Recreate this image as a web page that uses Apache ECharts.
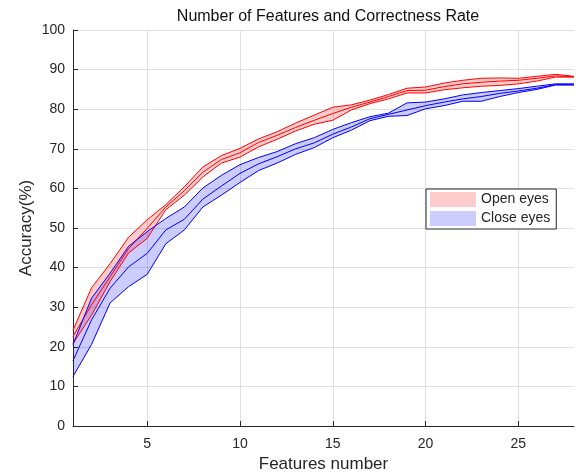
<!DOCTYPE html>
<html>
<head>
<meta charset="utf-8">
<script src="https://cdn.jsdelivr.net/npm/echarts@6/dist/echarts.min.js"></script>
<style>
  html, body { margin: 0; padding: 0; background: #fff; }
  #chart { width: 576px; height: 476px; }
</style>
</head>
<body>
<div id="chart"></div>
<script>
// Number of features used by the classifier
const features = [1,2,3,4,5,6,7,8,9,10,11,12,13,14,15,16,17,18,19,20,21,22,23,24,25,26,27,28];

// Open eyes: upper bound, mean, lower bound (accuracy %)
const openUpper = [24.2,34.9,41.0,47.7,52.1,55.9,60.4,65.4,68.3,70.1,72.5,74.3,76.5,78.5,80.5,81.1,82.3,83.7,85.3,85.6,86.6,87.3,87.8,87.9,87.8,88.3,88.8,88.3];
const openMean  = [22.6,30.6,37.7,44.8,49.9,55.3,59.4,64.1,67.3,69.0,71.6,73.4,75.4,77.2,78.9,80.5,81.8,83.2,84.7,84.8,85.7,86.4,86.8,87.1,87.3,87.8,88.4,88.2];
const openLower = [20.8,28.0,36.5,43.7,47.4,54.6,58.3,62.9,66.4,67.9,70.5,72.4,74.5,76.2,77.2,79.8,81.4,82.6,84.1,84.1,84.9,85.4,85.8,86.0,86.4,87.1,88.1,88.1];

// Close eyes: upper bound, mean, lower bound (accuracy %)
const closeUpper = [20.6,32.3,38.6,45.4,49.1,52.4,55.3,60.1,63.3,66.0,67.8,69.3,71.3,72.8,74.9,76.6,78.1,79.0,81.6,81.8,82.6,83.6,84.2,84.7,85.2,85.8,86.4,86.4];
const closeMean  = [16.5,26.8,34.8,40.2,43.6,49.5,52.2,57.3,60.6,63.8,66.2,68.0,70.0,71.5,73.7,75.5,77.6,78.7,79.8,80.9,81.8,82.6,83.2,84.0,84.6,85.3,86.2,86.2];
const closeLower = [12.5,20.6,31.1,35.2,38.3,46.0,49.5,55.3,58.3,61.5,64.5,66.4,68.6,70.3,72.8,74.7,77.1,78.2,78.4,80.1,80.9,82.0,82.0,83.2,84.2,85.0,86.1,86.1];

const xTicks = [5, 10, 15, 20, 25];

const TEXT = '#262626';
const FONT = 'Liberation Sans, Arial, Helvetica, sans-serif';

const pairs = (vals) => features.map((f, i) => [f, vals[i]]);

function lineSeries(vals, color) {
  return {
    type: 'line', data: pairs(vals), symbol: 'none', silent: true, z: 5,
    lineStyle: { color: color, width: 1 }
  };
}

// shaded band between the upper and lower bounds, drawn as one polygon
function bandSeries(name, hi, lo, fill) {
  return {
    name: name, type: 'custom', silent: true, z: 2,
    data: features.map((f, i) => [f, hi[i], lo[i]]),
    encode: { x: 0, y: [1, 2] },
    itemStyle: { color: fill },
    renderItem: function (params, api) {
      if (params.dataIndex !== 0) return null;
      const top = features.map((f, i) => api.coord([f, hi[i]]));
      const bottom = features.map((f, i) => api.coord([f, lo[i]])).reverse();
      return {
        type: 'polygon',
        shape: { points: top.concat(bottom) },
        style: { fill: fill, stroke: null }
      };
    }
  };
}

const chart = echarts.init(document.getElementById('chart'), null, { renderer: 'canvas' });

chart.setOption({
  animation: false,
  backgroundColor: '#ffffff',
  title: {
    text: 'Number of Features and Correctness Rate',
    left: 323, top: 4, textAlign: 'center',
    textStyle: { fontFamily: FONT, fontSize: 16, fontWeight: 'normal', color: '#111' }
  },
  grid: { left: 73, right: 2, top: 30, bottom: 50, containLabel: false, outerBoundsMode: 'none' },
  legend: {
    orient: 'vertical',
    left: 426, top: 189,
    data: [
      { name: 'Open eyes', icon: 'rect', itemStyle: { color: 'rgba(255,0,0,0.2)', borderWidth: 0 } },
      { name: 'Close eyes', icon: 'rect', itemStyle: { color: 'rgba(0,0,255,0.2)', borderWidth: 0 } }
    ],
    itemWidth: 46, itemHeight: 15, itemGap: 4,
    padding: [3, 6, 3, 4],
    backgroundColor: '#ffffff',
    borderColor: '#262626', borderWidth: 1,
    selectedMode: false,
    textStyle: { fontFamily: FONT, fontSize: 14, color: TEXT }
  },
  xAxis: {
    type: 'value', min: 1, max: 28,
    name: 'Features number', nameLocation: 'middle', nameGap: 30,
    nameTextStyle: { fontFamily: FONT, fontSize: 17, color: TEXT },
    axisLine: { show: true, lineStyle: { color: TEXT, width: 1 } },
    axisTick: { show: true, inside: true, length: 5, customValues: xTicks, lineStyle: { color: TEXT } },
    axisLabel: { customValues: xTicks, margin: 11, fontFamily: FONT, fontSize: 14, color: TEXT },
    splitLine: { show: true, lineStyle: { color: '#dfdfdf', width: 1 } }
  },
  yAxis: {
    type: 'value', min: 0, max: 100, interval: 10,
    name: 'Accuracy(%)', nameLocation: 'middle', nameGap: 38, nameRotate: 90,
    nameMoveOverlap: false,
    nameTextStyle: { fontFamily: FONT, fontSize: 17, color: TEXT },
    axisLine: { show: true, lineStyle: { color: TEXT, width: 1 } },
    axisTick: { show: true, inside: true, length: 5, lineStyle: { color: TEXT } },
    axisLabel: { margin: 8, fontFamily: FONT, fontSize: 14, color: TEXT },
    splitLine: { show: true, lineStyle: { color: '#dfdfdf', width: 1 } }
  },
  series: [
    bandSeries('Open eyes', openUpper, openLower, 'rgba(255,0,0,0.2)'),
    lineSeries(openUpper, '#ff0000'),
    lineSeries(openMean, '#ff0000'),
    lineSeries(openLower, '#ff0000'),
    bandSeries('Close eyes', closeUpper, closeLower, 'rgba(0,0,255,0.2)'),
    lineSeries(closeUpper, '#0000ff'),
    lineSeries(closeMean, '#0000ff'),
    lineSeries(closeLower, '#0000ff')
  ]
});
</script>
</body>
</html>
